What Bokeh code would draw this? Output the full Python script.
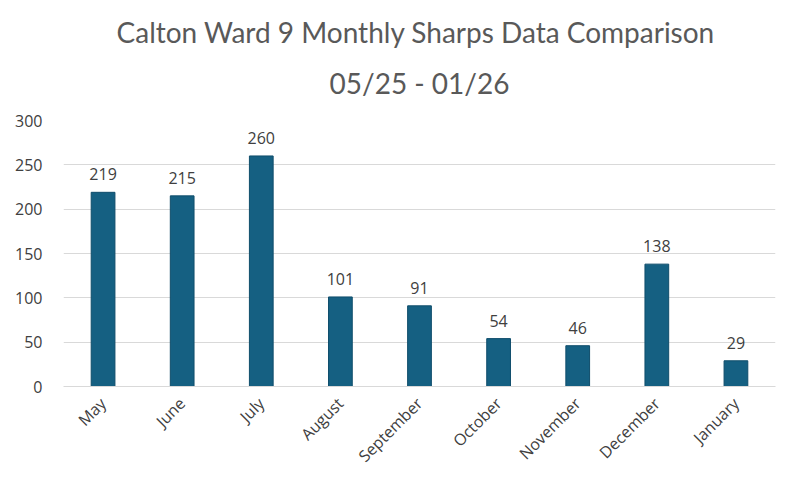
import math
from bokeh.plotting import figure
from bokeh.models import ColumnDataSource, Title, FixedTicker
from bokeh.core.properties import value
from bokeh.embed import file_html
from bokeh.resources import INLINE

months = ["May", "June", "July", "August", "September", "October", "November", "December", "January"]
counts = [219, 215, 260, 101, 91, 54, 46, 138, 29]
y_ticks = [0, 50, 100, 150, 200, 250, 300]
title_line1 = "Calton Ward 9  Monthly Sharps Data Comparison"
title_line2 = "05/25 - 01/26"

src = ColumnDataSource(dict(month=months, count=counts, label=[str(c) for c in counts]))

p = figure(x_range=months, y_range=(0, 300), width=784, height=477,
           output_backend="svg", toolbar_location=None,
           min_border_left=63, min_border_right=9, min_border_top=120, min_border_bottom=10)
p.outline_line_color = None

p.add_layout(Title(text=title_line2, align="center", text_font="Lato",
                   text_font_size="28px", text_font_style="normal", text_color="#595959",
                   standoff=42), "above")
p.add_layout(Title(text=title_line1, align="center", text_font="Lato",
                   text_font_size="28px", text_font_style="normal", text_color="#595959",
                   standoff=-13), "above")

p.vbar(x="month", top="count", width=0.3, source=src,
       fill_color="#156082", line_color="#0F4D6B", line_width=1)
p.text(x="month", y="count", text="label", source=src, text_align="center",
       text_baseline="bottom", y_offset=-12, text_font=value("Open Sans"),
       text_font_size="16px", text_color="#404040")

p.x_range.range_padding = 0
p.xgrid.grid_line_color = None
p.ygrid.grid_line_color = "#D9D9D9"
p.ygrid.grid_line_width = 1

p.yaxis.ticker = FixedTicker(ticks=y_ticks)
p.yaxis.axis_line_color = None
p.yaxis.major_tick_line_color = None
p.yaxis.minor_tick_line_color = None
p.yaxis.major_label_text_font = "Open Sans"
p.yaxis.major_label_text_font_size = "16px"
p.yaxis.major_label_text_color = "#404040"
p.yaxis.major_label_standoff = 15

p.xaxis.axis_line_color = "#D9D9D9"
p.xaxis.major_tick_line_color = None
p.xaxis.minor_tick_line_color = None
p.xaxis.major_label_orientation = math.pi / 4
p.xaxis.major_label_text_font = "Open Sans"
p.xaxis.major_label_text_font_size = "16px"
p.xaxis.major_label_text_color = "#404040"
p.xaxis.major_label_standoff = 8

open("out.html", "w").write(file_html(p, INLINE))
